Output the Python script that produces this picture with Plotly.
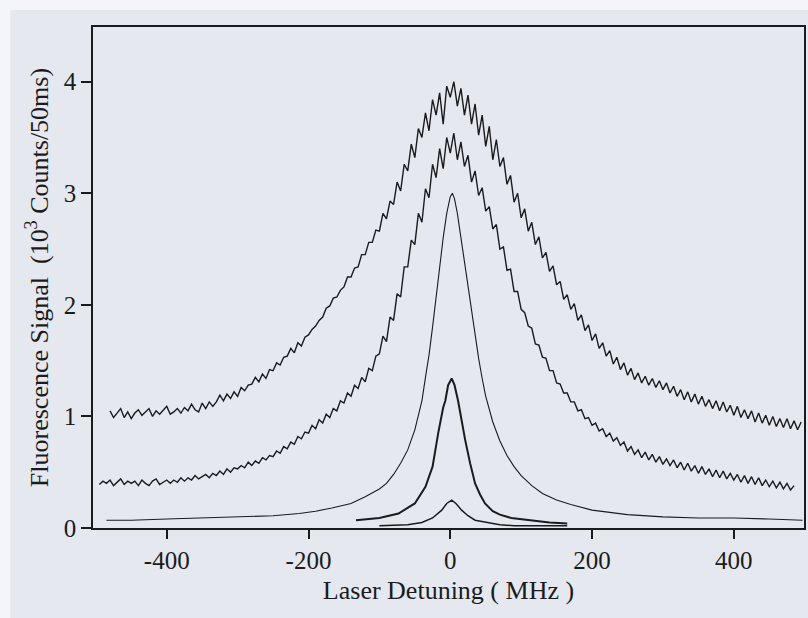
import plotly.graph_objects as go

# ---- data (Laser detuning in MHz, signal in 10^3 counts/50ms) ----
# curve A (broadest, highest): sampled every 5 MHz from -480 to 495
x_a = list(range(-480, 500, 5))
y_a = [1.05, 0.99, 1.03, 1.07, 0.99, 1.04, 0.98, 1.03, 1.06, 1.01,
       1.04, 1.07, 1.00, 1.05, 1.02, 1.06, 1.09, 1.02, 1.04, 1.07,
       1.03, 1.08, 1.05, 1.11, 1.06, 1.04, 1.12, 1.07, 1.13, 1.09,
       1.13, 1.19, 1.14, 1.20, 1.16, 1.22, 1.18, 1.26, 1.23, 1.28,
       1.29, 1.35, 1.31, 1.38, 1.34, 1.42, 1.41, 1.48, 1.46, 1.53,
       1.54, 1.61, 1.57, 1.66, 1.63, 1.71, 1.73, 1.78, 1.81, 1.86,
       1.89, 1.97, 1.99, 2.06, 2.07, 2.13, 2.16, 2.25, 2.25, 2.33,
       2.34, 2.45, 2.45, 2.56, 2.56, 2.67, 2.66, 2.82, 2.77, 2.93,
       2.90, 3.10, 3.02, 3.26, 3.20, 3.44, 3.32, 3.58, 3.50, 3.72,
       3.56, 3.84, 3.70, 3.90, 3.62, 3.96, 3.86, 4.00, 3.78, 3.94,
       3.70, 3.88, 3.62, 3.80, 3.52, 3.70, 3.42, 3.60, 3.30, 3.48,
       3.24, 3.32, 3.08, 3.16, 2.92, 3.00, 2.78, 2.86, 2.66, 2.74,
       2.54, 2.61, 2.42, 2.47, 2.30, 2.35, 2.18, 2.21, 2.05, 2.09,
       1.96, 2.01, 1.86, 1.91, 1.77, 1.82, 1.68, 1.74, 1.61, 1.66,
       1.54, 1.59, 1.47, 1.53, 1.42, 1.48, 1.37, 1.43, 1.33, 1.39,
       1.30, 1.36, 1.28, 1.34, 1.26, 1.32, 1.24, 1.30, 1.21, 1.27,
       1.18, 1.24, 1.15, 1.22, 1.13, 1.20, 1.11, 1.18, 1.09, 1.15,
       1.07, 1.14, 1.05, 1.13, 1.04, 1.10, 1.01, 1.09, 0.99, 1.06,
       0.98, 1.05, 0.95, 1.03, 0.94, 1.01, 0.92, 1.00, 0.91, 0.98,
       0.90, 0.98, 0.89, 0.96, 0.88, 0.95]

# curve B (second): sampled every 5 MHz from -495 to 485
x_b = list(range(-495, 490, 5))
y_b = [0.39, 0.42, 0.40, 0.43, 0.38, 0.41, 0.44, 0.39, 0.42, 0.40,
       0.42, 0.38, 0.43, 0.40, 0.38, 0.42, 0.44, 0.39, 0.41, 0.43,
       0.40, 0.43, 0.41, 0.45, 0.42, 0.45, 0.43, 0.47, 0.44, 0.46,
       0.48, 0.45, 0.49, 0.47, 0.51, 0.48, 0.53, 0.50, 0.54, 0.53,
       0.56, 0.54, 0.59, 0.56, 0.60, 0.58, 0.63, 0.61, 0.65, 0.64,
       0.69, 0.67, 0.73, 0.71, 0.77, 0.75, 0.82, 0.80, 0.86, 0.85,
       0.92, 0.89, 0.97, 0.94, 1.02, 0.99, 1.07, 1.05, 1.14, 1.12,
       1.21, 1.18, 1.28, 1.25, 1.35, 1.31, 1.43, 1.41, 1.54, 1.56,
       1.72, 1.67, 1.89, 1.86, 2.10, 2.07, 2.34, 2.34, 2.58, 2.54,
       2.82, 2.74, 3.04, 2.96, 3.26, 3.14, 3.40, 3.22, 3.50, 3.36,
       3.54, 3.30, 3.46, 3.24, 3.34, 3.10, 3.20, 2.98, 3.05, 2.84,
       2.88, 2.68, 2.72, 2.50, 2.52, 2.31, 2.32, 2.12, 2.12, 1.96,
       1.93, 1.81, 1.79, 1.65, 1.64, 1.53, 1.52, 1.41, 1.41, 1.30,
       1.29, 1.21, 1.21, 1.13, 1.13, 1.05, 1.06, 0.98, 0.99, 0.92,
       0.94, 0.87, 0.89, 0.82, 0.85, 0.78, 0.81, 0.74, 0.77, 0.69,
       0.73, 0.66, 0.70, 0.63, 0.68, 0.61, 0.66, 0.59, 0.64, 0.57,
       0.62, 0.56, 0.61, 0.54, 0.59, 0.52, 0.58, 0.51, 0.56, 0.49,
       0.55, 0.48, 0.53, 0.46, 0.52, 0.45, 0.51, 0.44, 0.49, 0.43,
       0.48, 0.41, 0.47, 0.40, 0.46, 0.39, 0.45, 0.38, 0.43, 0.37,
       0.42, 0.36, 0.41, 0.35, 0.40, 0.34, 0.38]

# curve C (thin line, peak ~3)
x_c = [-485, -450, -400, -350, -300, -250, -213, -190, -167, -140, -120, -100, -90, -80, -70,
       -60, -50, -40, -35, -30, -25, -20, -15, -10, -5, 0, 3, 6, 10, 15, 20, 25, 30, 35, 40,
       45, 50, 60, 70, 80, 90, 100, 115, 130, 150, 170, 200, 250, 300, 350, 400, 450, 497]
y_c = [0.07, 0.07, 0.08, 0.09, 0.10, 0.11, 0.13, 0.15, 0.18, 0.22, 0.28, 0.35, 0.40, 0.48, 0.58,
       0.70, 0.88, 1.14, 1.35, 1.55, 1.80, 2.08, 2.35, 2.60, 2.82, 2.97, 3.00, 2.95, 2.82, 2.60,
       2.38, 2.15, 1.92, 1.72, 1.52, 1.34, 1.18, 0.95, 0.78, 0.65, 0.55, 0.47, 0.38, 0.31, 0.25,
       0.21, 0.16, 0.12, 0.10, 0.09, 0.09, 0.08, 0.07]

# curve D (peak ~1.3)
x_d = [-133, -100, -73, -50, -35, -25, -17, -10, -7, -3, 2, 6, 11, 16, 21, 28, 35, 42, 49,
       60, 70, 86, 110, 140, 165]
y_d = [0.07, 0.09, 0.13, 0.22, 0.37, 0.55, 0.85, 1.08, 1.14, 1.28, 1.34, 1.28, 1.14, 0.96,
       0.79, 0.58, 0.40, 0.30, 0.22, 0.15, 0.12, 0.09, 0.07, 0.05, 0.04]

# curve E (smallest, peak ~0.25)
x_e = [-100, -60, -40, -25, -12, -5, 2, 8, 16, 25, 35, 50, 70, 90, 140, 165]
y_e = [0.02, 0.03, 0.05, 0.09, 0.16, 0.22, 0.25, 0.22, 0.16, 0.11, 0.07, 0.05, 0.03, 0.02,
       0.02, 0.02]

x_ticks = [-400, -200, 0, 200, 400]
y_ticks = [0, 1, 2, 3, 4]

INK = "#1b1b1e"
BG = "#e5e8ee"

fig = go.Figure()
for xs, ys, w in [(x_a, y_a, 1.4), (x_b, y_b, 1.4), (x_c, y_c, 1.1),
                  (x_d, y_d, 2.0), (x_e, y_e, 1.5)]:
    fig.add_trace(go.Scatter(x=xs, y=ys, mode="lines",
                             line=dict(color=INK, width=w), showlegend=False,
                             hoverinfo="skip"))

font_family = "Liberation Serif, Times New Roman, serif"

fig.update_layout(
    width=808, height=618,
    margin=dict(l=93, r=2, t=27, b=90),
    paper_bgcolor=BG, plot_bgcolor=BG,
    font=dict(family=font_family, color=INK, size=25),
    shapes=[
        dict(type="rect", xref="paper", yref="paper", x0=-0.14, x1=-0.1164, y0=-0.2, y1=1.1,
             fillcolor="#f4f5f8", line=dict(width=0), layer="below"),
        dict(type="rect", xref="paper", yref="paper", x0=-0.14, x1=1.01, y0=1.034, y1=1.1,
             fillcolor="#f4f5f8", line=dict(width=0), layer="below"),
    ],
)
fig.update_xaxes(
    range=[-504, 499], tickvals=x_ticks, ticktext=[str(v) for v in x_ticks],
    showgrid=False, zeroline=False, showline=True, linecolor=INK, linewidth=1.5,
    mirror=True, ticks="outside", ticklen=9, tickwidth=1.5, tickcolor=INK,
    tickfont=dict(size=25, family=font_family, color=INK),
    title=dict(text="Laser Detuning ( MHz )", font=dict(size=26, family=font_family, color=INK),
               standoff=8),
)
fig.update_yaxes(
    range=[0, 4.49], tickvals=y_ticks, ticktext=[str(v) for v in y_ticks],
    showgrid=False, zeroline=False, showline=True, linecolor=INK, linewidth=1.5,
    mirror=True, ticks="outside", ticklen=10, tickwidth=1.5, tickcolor=INK,
    tickfont=dict(size=25, family=font_family, color=INK),
    title=dict(text="Fluorescence Signal  (10<sup>3</sup> Counts/50ms)",
               font=dict(size=26, family=font_family, color=INK), standoff=8),
)

fig.write_html("out.html")
